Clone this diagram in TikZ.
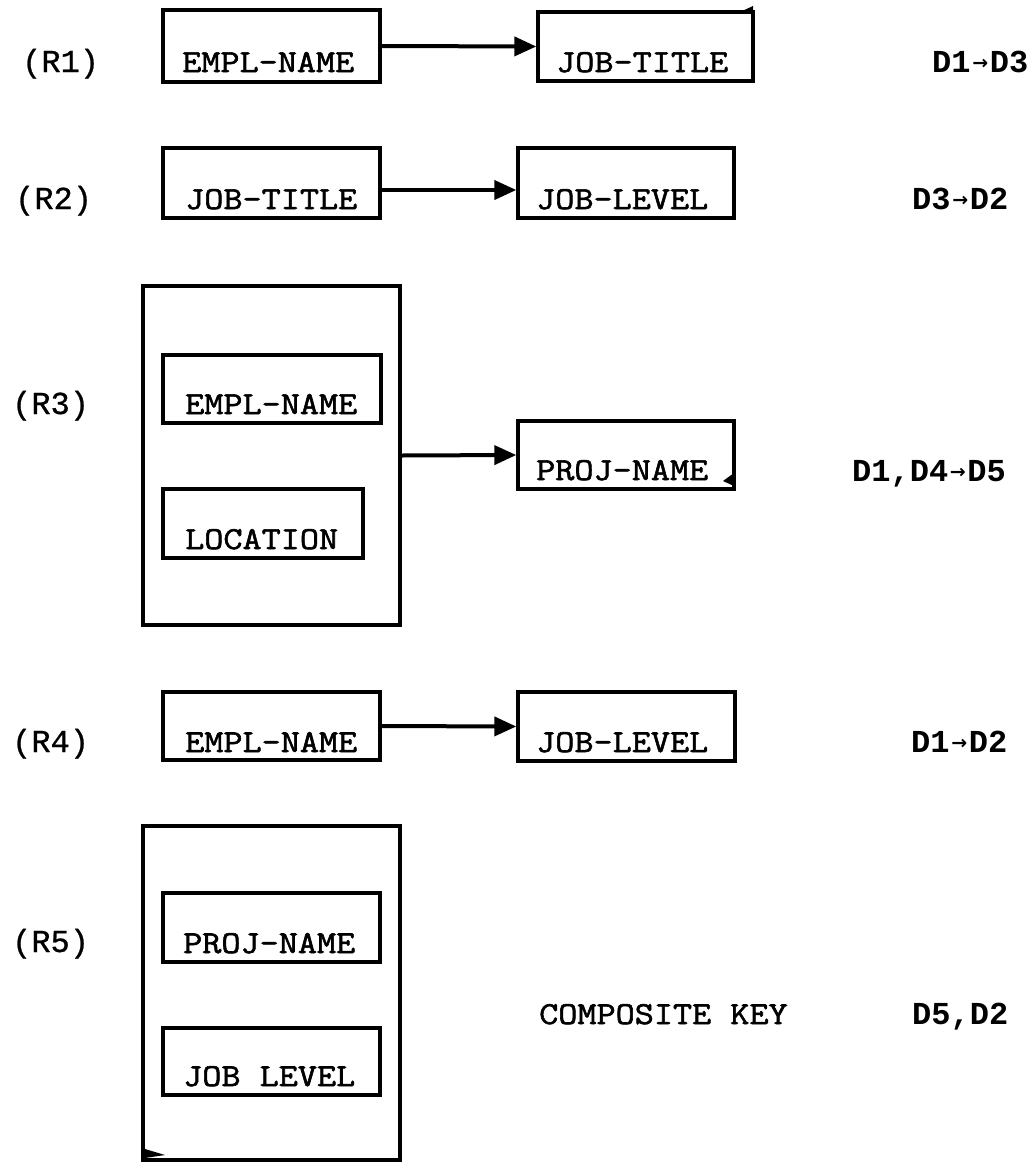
\documentclass[tikz,border=0pt]{standalone}
\usepackage{fontspec}
\setmainfont{Liberation Mono}
\newfontfamily\twfont{Latin Modern Mono}[FakeStretch=1.16, FakeBold=1.8]
\newfontfamily\rlfont{Liberation Mono}[FakeBold=0.8]
\newfontfamily\arrfont{DejaVu Sans}
\usetikzlibrary{arrows.meta,calc}
\newcommand\smallarr{\makebox[0.6em][c]{\raisebox{2.5pt}{\arrfont\bfseries\fontsize{19}{19}\selectfont →}}}
\begin{document}
\begin{tikzpicture}[x=1pt,y=-1pt,
  box/.style={draw, line width=3.4pt, inner sep=0pt},
  txt/.style={anchor=base west, inner sep=0pt, font=\twfont\fontsize{32}{38}\selectfont},
  rlab/.style={anchor=base west, inner sep=0pt, font=\rlfont\fontsize{32}{38}\selectfont},
  dlab/.style={anchor=base west, inner sep=0pt, font=\bfseries\fontsize{32}{38}\selectfont},
  conn/.style={line width=4pt, -{Triangle[length=22pt,width=19pt]}}]
\fill[white] (0,0) rectangle (1036,1170);
\useasboundingbox (0,0) rectangle (1036,1170);

% ---- R1
\node[box, minimum width=217pt, minimum height=72pt] (r1a) at (271.5,46) {};
\node[box, minimum width=215pt, minimum height=69pt] (r1b) at (645.5,46.5) {};
\fill (740,12) -- (753,6) -- (753,14) -- cycle;
\node[rlab] (l1) at (22,72) {(R1)};
\node[txt] (t1a) at (182,72) {EMPL-NAME};
\node[txt] (t1b) at (556,72) {JOB-TITLE};
\node[dlab] (d1) at (932,72) {D1\smallarr D3};
\draw[conn] (r1a.east) -- (r1b.west);

% ---- R2
\node[box, minimum width=217pt, minimum height=70pt] (r2a) at (271.5,183) {};
\node[box, minimum width=216pt, minimum height=70pt] (r2b) at (626,183) {};
\node[rlab] (l2) at (15,209) {(R2)};
\node[txt] (t2a) at (185,209) {JOB-TITLE};
\node[txt] (t2b) at (536,209) {JOB-LEVEL};
\node[dlab] (d2) at (912,209) {D3\smallarr D2};
\draw[conn] ([yshift=-7pt]r2a.east) -- ([yshift=-7pt]r2b.west);

% ---- R3
\node[box, minimum width=257pt, minimum height=339pt] (r3o) at (271.5,455.5) {};
\node[box, minimum width=218pt, minimum height=68pt] (r3i1) at (272,389) {};
\node[box, minimum width=200pt, minimum height=69pt] (r3i2) at (263,523.5) {};
\node[box, minimum width=216pt, minimum height=68pt] (r3b) at (626,455) {};
\fill (734,473) -- (723,481) -- (734,486) -- cycle;
\node[rlab] (l3) at (12,414) {(R3)};
\node[txt] (t3a) at (185,414) {EMPL-NAME};
\node[txt] (t3b) at (185,549) {LOCATION};
\node[txt] (t3c) at (536,480) {PROJ-NAME};
\node[dlab] (d3) at (852,481) {D1,D4\smallarr D5};
\draw[conn] (r3o.east) -- (r3b.west);

% ---- R4
\node[box, minimum width=217pt, minimum height=68pt] (r4a) at (271.5,726) {};
\node[box, minimum width=217pt, minimum height=69pt] (r4b) at (626.5,726.5) {};
\node[rlab] (l4) at (12,752) {(R4)};
\node[txt] (t4a) at (185,752) {EMPL-NAME};
\node[txt] (t4b) at (536,752) {JOB-LEVEL};
\node[dlab] (d4) at (911,752) {D1\smallarr D2};
\draw[conn] (r4a.east) -- (r4b.west);

% ---- R5
\node[box, minimum width=257pt, minimum height=334pt] (r5o) at (271.5,993) {};
\node[box, minimum width=217pt, minimum height=69pt] (r5i1) at (271.5,927.5) {};
\node[box, minimum width=217pt, minimum height=67pt] (r5i2) at (271.5,1061.5) {};
\fill (145,1149) -- (165,1155) -- (145,1158) -- cycle;
\node[rlab] (l5) at (12,952) {(R5)};
\node[txt] (t5a) at (183,953) {PROJ-NAME};
\node[txt] (t5b) at (183,1086) {JOB LEVEL};
\node[txt] (t5c) at (539,1024) {COMPOSITE KEY};
\node[dlab] (d5) at (912,1024) {D5,D2};
\end{tikzpicture}
\end{document}
